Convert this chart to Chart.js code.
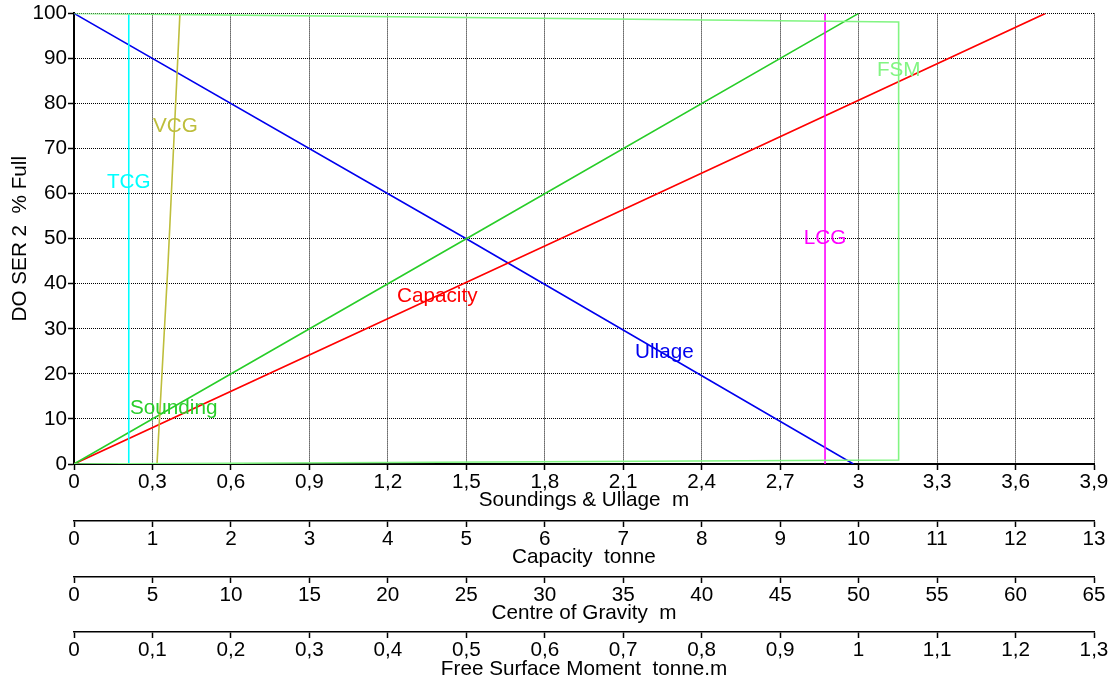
<!DOCTYPE html>
<html>
<head>
<meta charset="utf-8">
<script src="https://cdn.jsdelivr.net/npm/chart.js@4.4.0/dist/chart.umd.min.js"></script>
<style>
  html, body { margin: 0; padding: 0; background: #fff; }
  #wrap { width: 1115px; height: 685px; }
</style>
</head>
<body>
<div id="wrap"><canvas id="chart" width="1115" height="685"></canvas></div>
<script>
// % full is on the vertical axis for every curve
const soundingM = [0, 1.5, 3.0];
const soundingPct = [0, 50, 100];
const ullageM = [0, 1.5, 2.98];
const ullagePct = [100, 50, 0];
const capacityT = [0, 6.2, 12.38];
const capacityPct = [0, 50, 100];
const vcgM = [5.29, 6.0, 6.75];
const vcgPct = [0, 45, 100];
const tcgM = [3.49, 3.49];
const tcgPct = [0, 100];
const lcgM = [47.86, 47.86];
const lcgPct = [0, 100];
const fsmTm = [0, 1.051, 1.051, 0];
const fsmPct = [0, 0.9, 98.1, 100];

// curve names written inside the plot, [text, sounding m, % full]
const curveLabels = [
  ['Sounding', 0.214, 12.4],
  ['Capacity', 1.235, 37.3],
  ['Ullage', 2.145, 24.7],
  ['VCG', 0.302, 75.0],
  ['TCG', 0.126, 62.5],
  ['LCG', 2.79, 50.1],
  ['FSM', 3.07, 87.4]
];

const colors = {
  Sounding: 'rgb(40,205,40)',
  Capacity: '#ff0000',
  Ullage: '#0000ee',
  VCG: 'rgb(190,190,60)',
  TCG: '#00ffff',
  LCG: '#ff00ff',
  FSM: 'rgb(130,245,130)'
};

const FONT = 'Arial, "Liberation Sans", sans-serif';
const SIZE = 20.7;

const pts = (xs, ys) => xs.map((x, i) => ({ x: x, y: ys[i] }));
const comma = v => String(+Number(v).toFixed(2)).replace('.', ',');

function line(name, xs, ys, axis) {
  return {
    label: name,
    data: pts(xs, ys),
    xAxisID: axis,
    yAxisID: 'y',
    showLine: true,
    borderColor: colors[name],
    backgroundColor: colors[name],
    borderWidth: 1.6,
    pointRadius: 0,
    fill: false,
    tension: 0
  };
}

Chart.defaults.font.family = FONT;
Chart.defaults.font.size = SIZE;
Chart.defaults.color = '#000';

const labelPlugin = {
  id: 'curveLabels',
  afterDatasetsDraw(chart) {
    const ctx = chart.ctx;
    const xs = chart.scales.x, ys = chart.scales.y;
    ctx.save();
    ctx.font = SIZE + 'px ' + FONT;
    ctx.textAlign = 'left';
    ctx.textBaseline = 'middle';
    curveLabels.forEach(l => {
      ctx.fillStyle = colors[l[0]];
      ctx.fillText(l[0], xs.getPixelForValue(l[1]), ys.getPixelForValue(l[2]));
    });
    ctx.restore();
  }
};

function subAxis(title, max, step, weight, height, padBottom) {
  return {
    type: 'linear',
    position: 'bottom',
    weight: weight,
    min: 0,
    max: max,
    ticks: { stepSize: step, padding: 0, maxRotation: 0, autoSkip: false, callback: comma },
    grid: { drawOnChartArea: false, drawTicks: true, tickLength: 6, tickColor: '#000', tickWidth: 1.5 },
    border: { display: true, color: '#000', width: 1.5 },
    title: { display: true, text: title, padding: { top: 0, bottom: padBottom } },
    afterFit: s => { s.height = height; }
  };
}

new Chart(document.getElementById('chart'), {
  type: 'scatter',
  data: {
    datasets: [
      line('FSM', fsmTm, fsmPct, 'x4'),
      line('TCG', tcgM, tcgPct, 'x3'),
      line('LCG', lcgM, lcgPct, 'x3'),
      line('VCG', vcgM, vcgPct, 'x3'),
      line('Sounding', soundingM, soundingPct, 'x'),
      line('Capacity', capacityT, capacityPct, 'x2'),
      line('Ullage', ullageM, ullagePct, 'x')
    ]
  },
  options: {
    responsive: false,
    animation: false,
    devicePixelRatio: 1,
    layout: { padding: { top: 11, right: 21, left: 0, bottom: 0 } },
    plugins: { legend: { display: false }, tooltip: { enabled: false } },
    scales: {
      x: {
        type: 'linear',
        position: 'bottom',
        weight: 0,
        min: 0,
        max: 3.9,
        ticks: { stepSize: 0.3, padding: 0, maxRotation: 0, autoSkip: false, callback: comma },
        grid: { color: '#000', lineWidth: 1, tickLength: 6, tickColor: '#000', tickWidth: 1.5, tickBorderDash: [] },
        border: { display: true, color: '#000', width: 2, dash: [1, 1] },
        title: { display: true, text: 'Soundings & Ullage  m', padding: { top: 0, bottom: 8 } },
        afterFit: s => { s.height = 57; }
      },
      x2: subAxis('Capacity  tonne', 13, 1, 1, 56, 7),
      x3: subAxis('Centre of Gravity  m', 65, 5, 2, 55, 6),
      x4: subAxis('Free Surface Moment  tonne.m', 1.3, 0.1, 3, 53, 3),
      y: {
        type: 'linear',
        min: 0,
        max: 100,
        ticks: { stepSize: 10, padding: 1 },
        grid: { color: '#000', lineWidth: 1, tickLength: 6, tickColor: '#000', tickWidth: 1.5, tickBorderDash: [] },
        border: { display: true, color: '#000', width: 2, dash: [1, 1] },
        title: { display: true, text: 'DO SER 2  % Full', font: { size: SIZE, lineHeight: 1.6 } },
        afterFit: s => { s.width = 74; }
      }
    }
  },
  plugins: [labelPlugin]
});
</script>
</body>
</html>
